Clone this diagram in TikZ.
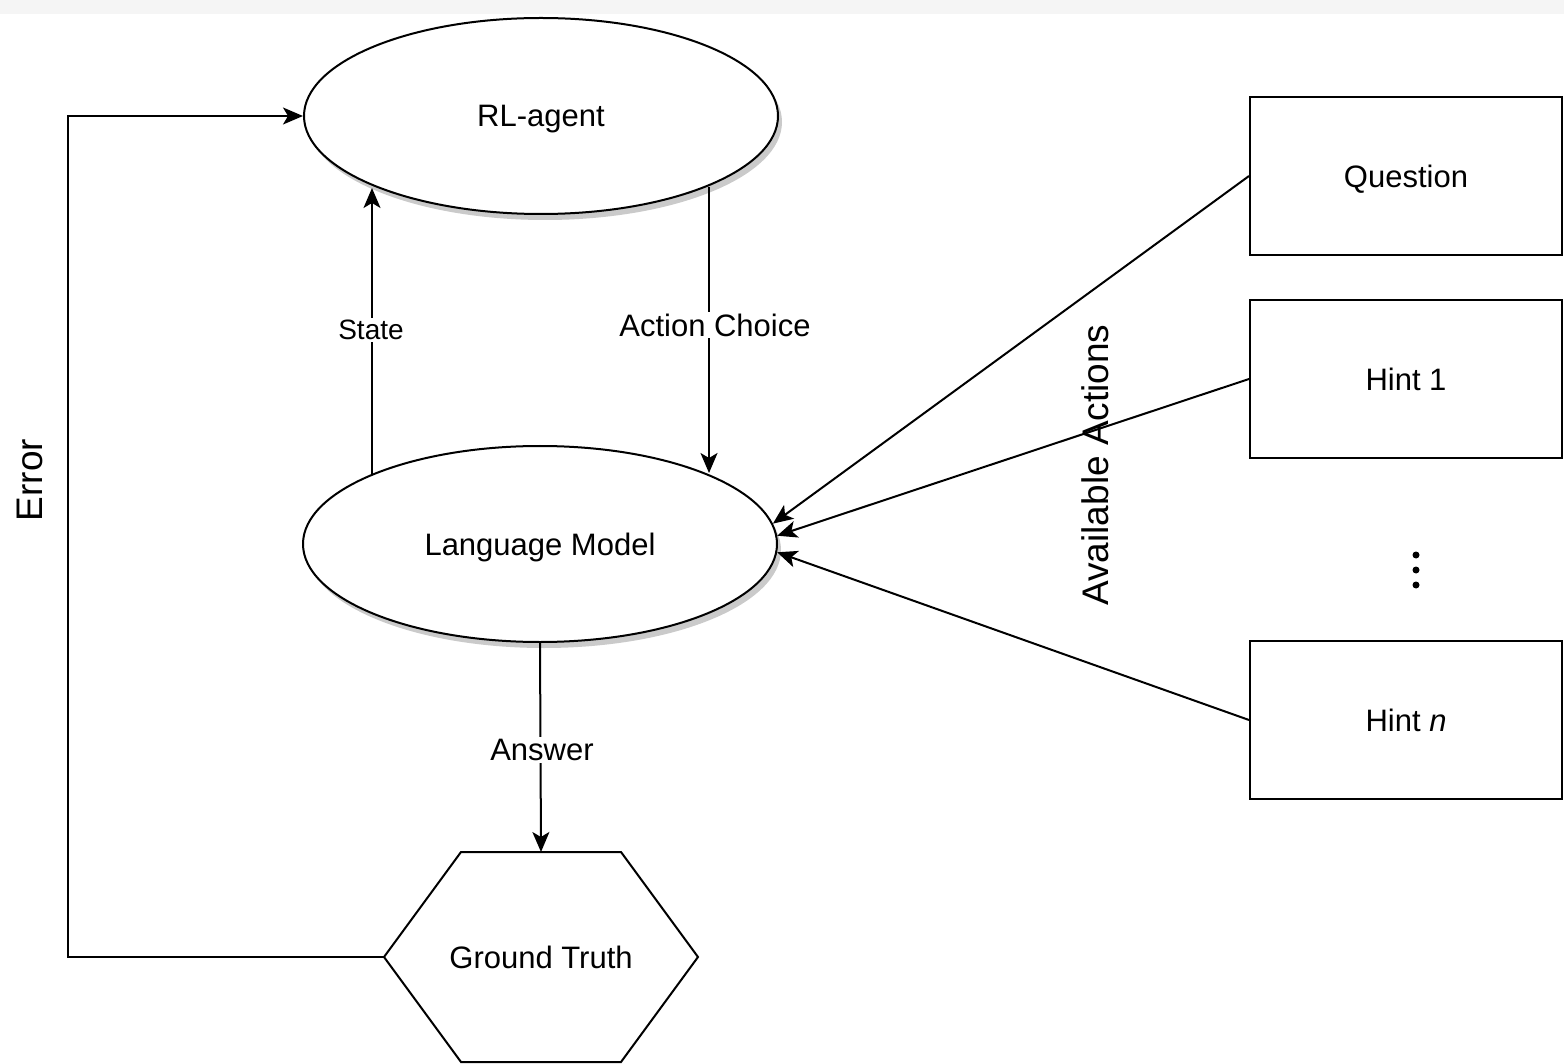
\documentclass[tikz,border=0pt]{standalone}
\usepackage{fontspec}
\setmainfont{Liberation Sans}
\usetikzlibrary{shapes.geometric,arrows.meta,shadows,calc}
\begin{document}
\begin{tikzpicture}[x=1pt,y=-1pt,
  line width=2pt,
  font=\fontsize{31}{37}\selectfont,
  arr/.style={-{Stealth[length=20pt,width=17pt,inset=5pt]}},
  ell/.style={ellipse,draw,fill=white,inner sep=0pt,text depth=0pt,minimum width=474pt,minimum height=196pt,
    drop shadow={shadow xshift=4pt,shadow yshift=-6pt,opacity=0.35,fill=black!60}},
  actbox/.style={rectangle,draw,fill=white,inner sep=0pt,text depth=0pt,minimum width=312pt,minimum height=158pt},
  lbl/.style={fill=white,inner sep=2pt},
  big/.style={font=\fontsize{37}{44}\selectfont}]
\useasboundingbox (0,0) rectangle (1564,1064);
\fill[gray!8] (0,0) rectangle (1564,14);

\node[ell] (rl) at (541,116) {RL-agent};
\node[ell] (lm) at (540,544) {Language Model};

\node[actbox] (q) at (1406,176) {Question};
\node[actbox] (h1) at (1406,379) {Hint 1};
\node[actbox] (hn) at (1406,720) {Hint \textit{n}};

% hexagon
\coordinate (gtL) at (384,957);
\coordinate (gtT) at (541,852);
\draw[fill=white] (gtL) -- (461,852) -- (621,852) -- (698,957) -- (621,1062) -- (461,1062) -- cycle;
\node[text depth=0pt] (gt) at (541,957) {Ground Truth};

% error loop
\coordinate (c1) at (68,957);
\coordinate (c2) at (68,116);
\draw[arr] (gtL) -- (c1) -- (c2) -- (rl.west);
\node[big,rotate=90] (err) at (30,480) {Error};

% state
\coordinate (s0) at (372,474);
\coordinate (s1) at (372,188);
\draw[arr] (s0) -- (s1);
\node[lbl,font=\fontsize{28}{34}\selectfont] (st) at (371,330) {State};

% action choice
\coordinate (a0) at (709,187);
\coordinate (a1) at (709,473);
\draw[arr] (a0) -- (a1);
\node[lbl] (ac) at (715,325) {Action Choice};

% answer
\draw[arr] (lm.south) -- (gtT);
\node[lbl] (ans) at (542,750) {Answer};

% available actions
\draw[arr] (q.west) -- (lm.5);
\draw[arr] (h1.west) -- (lm.2);
\draw[arr] (hn.west) -- (lm.-2);
\node[big,rotate=90] (avail) at (1095,465) {Available Actions};

% dots
\fill (1416,555) circle (3.5);
\fill (1416,570) circle (3.5);
\fill (1416,585) circle (3.5);
\end{tikzpicture}
\end{document}
